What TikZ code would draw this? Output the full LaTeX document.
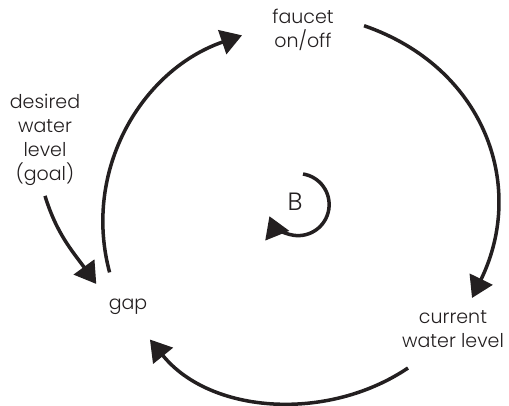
\documentclass[tikz,border=0pt]{standalone}
\usepackage{fontspec}
\setmainfont{Poppins Light}
\usepackage{xcolor}
\usetikzlibrary{arrows.meta}
\definecolor{ink}{RGB}{35,31,32}

\begin{document}
\begin{tikzpicture}[
    x=1pt, y=1pt,
    var/.style={align=center, font=\fontsize{19}{24}\selectfont, text=ink, inner sep=0pt},
    arr/.style={-{Triangle[length=21pt, width=25pt]}, line width=3.5pt, draw=ink},
]
\useasboundingbox (0,0) rectangle (509,-406);

% ======== VARIABLES ========
\node[var, circle, minimum size=122pt] (faucet) at (303,-30) {faucet\\on/off};
\node[var, inner sep=10pt] (desired) at (45,-140) {desired\\water\\level\\(goal)};
\node[var, circle, minimum size=78pt] (gap) at (128,-307) {gap};
\node[var] (current) at (453,-329) {current\\water level};
\node[var, font=\fontsize{25}{30}\selectfont] (loopB) at (295,-202) {B};

% ======== CAUSAL LINKS ========
\draw[arr] (gap.118) to[out=105, in=199] (faucet.185);
\draw[arr] (faucet.4) to[out=-19, in=64, looseness=1.1] ([shift={(19,31)}]current.center);
\draw[arr] ([shift={(-45,-39)}]current.center) to[out=-146, in=-51, looseness=0.95] (gap.-56);
\draw[arr] (desired.south) to[out=-73, in=126] (gap.144);

% balancing loop marker
\draw[arr] ([shift={(8,28)}]loopB.center) arc[start angle=81, end angle=-158, radius=31];

\end{tikzpicture}
\end{document}
